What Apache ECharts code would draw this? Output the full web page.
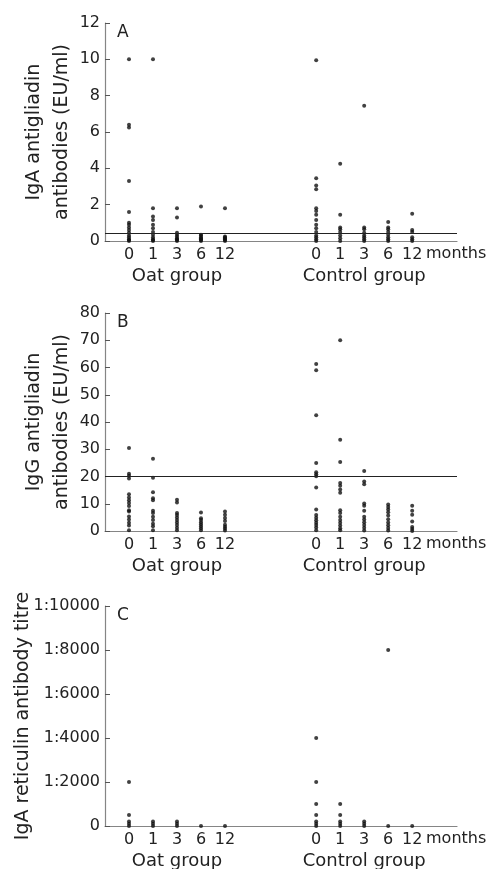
<!DOCTYPE html>
<html>
<head>
<meta charset="utf-8">
<script src="https://cdn.jsdelivr.net/npm/echarts@6/dist/echarts.min.js"></script>
<style>
  html, body { margin: 0; padding: 0; background: #fff; }
  #figure { width: 490px; height: 869px; }
</style>
</head>
<body>
<div id="figure"></div>
<script>
// tick labels
var months = ['0', '1', '3', '6', '12'];
var groups = ['Oat group', 'Control group'];

// A: IgA antigliadin antibodies (EU/ml), one list per month
var igaOat = [
    [10, 6.4, 6.25, 3.3, 1.6, 1.0, 0.9, 0.75, 0.6, 0.45, 0.3, 0.2, 0.1, 0.05, 0],
    [10, 1.8, 1.35, 1.15, 0.9, 0.7, 0.5, 0.35, 0.2, 0.1, 0.05, 0],
    [1.8, 1.3, 0.45, 0.35, 0.25, 0.15, 0.1, 0.05, 0],
    [1.9, 0.35, 0.3, 0.2, 0.15, 0.1, 0.05, 0],
    [1.8, 0.25, 0.2, 0.15, 0.1, 0.05, 0]
];
var igaControl = [
    [9.95, 3.45, 3.05, 2.85, 1.8, 1.65, 1.45, 1.15, 0.9, 0.7, 0.5, 0.3, 0.2, 0.1, 0],
    [4.25, 1.45, 0.75, 0.65, 0.5, 0.3, 0.15, 0],
    [7.45, 0.75, 0.65, 0.45, 0.3, 0.2, 0.1, 0],
    [1.05, 0.75, 0.65, 0.5, 0.35, 0.2, 0.1, 0],
    [1.5, 0.6, 0.5, 0.2, 0.1, 0]
];
var igaCutoff = 0.45;

// B: IgG antigliadin antibodies (EU/ml)
var iggOat = [
    [30.5, 21, 20.3, 19.3, 13.5, 12.3, 11.3, 10.3, 9.2, 7.6, 7.2, 5.3, 4.2, 3, 2, 0.3],
    [26.5, 19.5, 14.2, 12, 11.3, 7.4, 6.6, 5.2, 4, 2.7, 1.7, 0.3],
    [11.5, 10.5, 6.6, 5.9, 5, 4, 3.1, 2.2, 1.2, 0.3],
    [6.8, 4.7, 4, 3.2, 2.5, 1.7, 1, 0.3],
    [7.2, 6, 4.8, 3.7, 2.3, 1.6, 0.9, 0.2]
];
var iggControl = [
    [61.3, 59, 42.5, 25, 21.6, 20.8, 20.1, 16, 7.9, 5.9, 4.9, 3.9, 3, 2.2, 1.3, 0.3],
    [70, 33.5, 25.3, 17.6, 16.6, 15.2, 14, 7.6, 6.6, 5.2, 4, 3, 2, 1, 0.3],
    [22, 18.2, 17.2, 10.1, 9.3, 7.4, 5.2, 4.2, 3.2, 2.2, 1.2, 0.2],
    [9.7, 8.8, 7.9, 6.9, 5.7, 4.3, 3.1, 2.1, 1.1, 0.2],
    [9.3, 7.4, 6, 3.5, 1.5, 0.7, 0]
];
var iggCutoff = 20;

// C: IgA reticulin antibody titre (1:x)
var retOat = [
    [2000, 500, 200, 100, 0],
    [200, 100, 0],
    [200, 100, 0],
    [0],
    [0]
];
var retControl = [
    [4000, 2000, 1000, 500, 200, 100, 0],
    [1000, 500, 200, 100, 0],
    [200, 100, 0],
    [8000, 0],
    [0]
];

// layout of the two groups on a value x axis
var groupStart = [1, 8.8];
var xMax = 14.667;
var font = 'DejaVu Sans';
var textColor = '#222';
var axisGray = '#858585';

function colX(g, i) { return groupStart[g] + i; }

function points(oat, control) {
    var out = [];
    [oat, control].forEach(function (cols, g) {
        cols.forEach(function (vals, i) {
            vals.forEach(function (v) { out.push([colX(g, i), v]); });
        });
    });
    return out;
}

var colPos = [], groupPos = [];
groups.forEach(function (n, g) {
    months.forEach(function (m, i) { colPos.push(colX(g, i)); });
    groupPos.push(colX(g, 2));
});

var panels = [
    { top: 23, height: 218, max: 12, interval: 2, name: 'IgA antigliadin\nantibodies (EU/ml)',
      gap: 29, lh: 28, data: points(igaOat, igaControl), cutoff: igaCutoff, letter: 'A' },
    { top: 313, height: 218, max: 80, interval: 10, name: 'IgG antigliadin\nantibodies (EU/ml)',
      gap: 29, lh: 28, data: points(iggOat, iggControl), cutoff: iggCutoff, letter: 'B' },
    { top: 606, height: 220, max: 10000, interval: 2000, name: 'IgA reticulin antibody titre',
      gap: 72, lh: 20, data: points(retOat, retControl), cutoff: null, letter: 'C',
      fmt: function (v) { return v === 0 ? '0' : '1:' + v; } }
];

var grids = [], xAxes = [], yAxes = [], series = [], graphics = [];

panels.forEach(function (p, k) {
    grids.push({ left: 105, width: 352, top: p.top, height: p.height, outerBoundsMode: 'none', containLabel: false });
    xAxes.push({
        type: 'value', gridIndex: k, min: 0, max: xMax,
        axisLine: { lineStyle: { color: axisGray, width: 1.2 } },
        axisTick: { show: false },
        splitLine: { show: false },
        axisLabel: {
            customValues: colPos, margin: 6,
            fontFamily: font, fontSize: 16, color: textColor,
            formatter: function (v) {
                var idx = colPos.findIndex(function (c) { return Math.abs(c - v) < 0.01; });
                return idx < 0 ? '' : months[idx % months.length];
            }
        }
    });
    xAxes.push({
        type: 'value', gridIndex: k, min: 0, max: xMax, position: 'bottom',
        axisLine: { show: false }, axisTick: { show: false }, splitLine: { show: false },
        axisLabel: {
            customValues: groupPos, margin: 26,
            fontFamily: font, fontSize: 18, color: textColor,
            formatter: function (v) {
                var idx = groupPos.findIndex(function (c) { return Math.abs(c - v) < 0.01; });
                return idx < 0 ? '' : groups[idx];
            }
        }
    });
    yAxes.push({
        type: 'value', gridIndex: k, min: 0, max: p.max, interval: p.interval,
        name: p.name, nameLocation: 'middle', nameGap: p.gap, nameMoveOverlap: false,
        nameTextStyle: { fontFamily: font, fontSize: 19, color: textColor, lineHeight: p.lh },
        axisLine: { show: true, lineStyle: { color: axisGray, width: 1.2 } },
        axisTick: { show: true, inside: true, length: 5, lineStyle: { color: '#555' } },
        splitLine: { show: false },
        axisLabel: { fontFamily: font, fontSize: 16, color: textColor, margin: 5,
            formatter: p.fmt || function (v) { return String(v); } }
    });
    var s = {
        type: 'scatter', xAxisIndex: 2 * k, yAxisIndex: k,
        symbolSize: 4, itemStyle: { color: '#111' },
        data: p.data, silent: true
    };
    if (p.cutoff !== null) {
        s.markLine = {
            silent: true, symbol: 'none', label: { show: false },
            lineStyle: { color: '#222', type: 'solid', width: 1.2 },
            data: [{ yAxis: p.cutoff }]
        };
    }
    series.push(s);
    graphics.push({
        type: 'text', left: 117, top: p.top + 1,
        style: { text: p.letter, fontFamily: font, fontSize: 17, fill: textColor }
    });
    graphics.push({
        type: 'text', left: 426, top: p.top + p.height + 5,
        style: { text: 'months', fontFamily: font, fontSize: 16, fill: textColor }
    });
});

var figure = echarts.init(document.getElementById('figure'));
figure.setOption({
    animation: false,
    grid: grids,
    xAxis: xAxes,
    yAxis: yAxes,
    series: series,
    graphic: graphics
});
</script>
</body>
</html>
